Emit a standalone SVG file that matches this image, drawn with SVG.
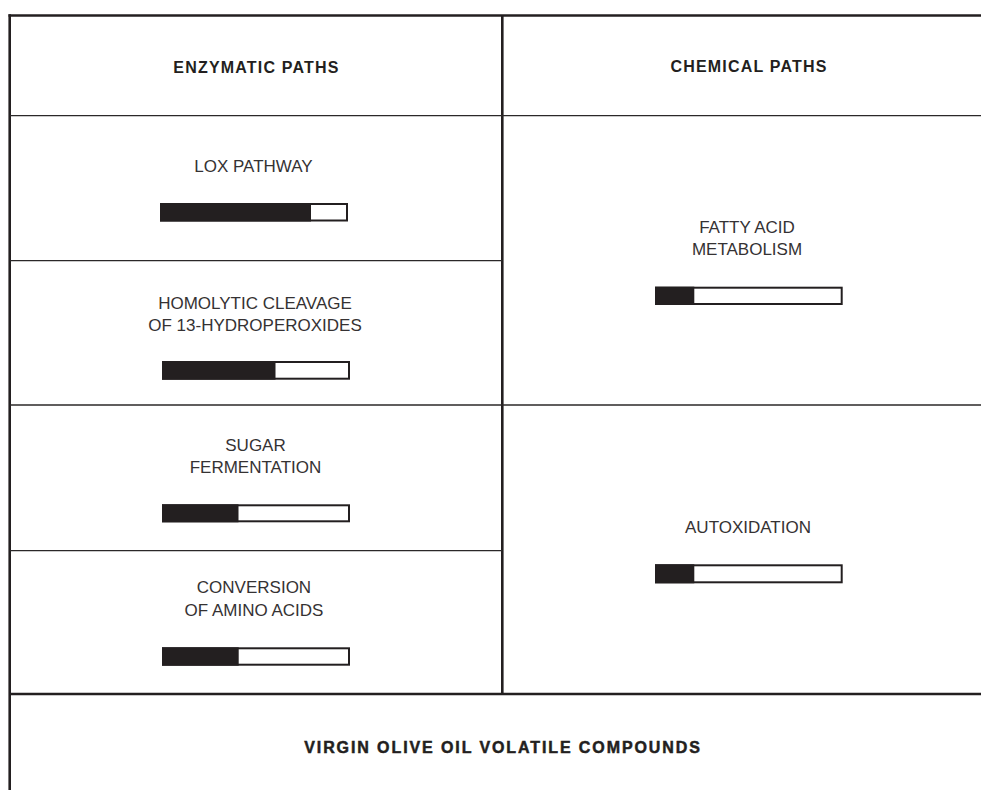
<svg xmlns="http://www.w3.org/2000/svg" width="981" height="790" viewBox="0 0 981 790">
  <style>
    .frame { stroke: #231f20; stroke-width: 2.6; fill: none; }
    .rule { stroke: #2b2829; stroke-width: 1.3; fill: none; }
    .head { font-family: "Liberation Sans", Arial, sans-serif; font-weight: bold; font-size: 16px; letter-spacing: 1.2px; fill: #231f20; text-anchor: middle; }
    .label { font-family: "Liberation Sans", Arial, sans-serif; font-size: 17px; fill: #353233; text-anchor: middle; }
    .title { font-family: "Liberation Sans", Arial, sans-serif; font-weight: bold; font-size: 16px; letter-spacing: 1.9px; fill: #231f20; stroke: #231f20; stroke-width: 0.5; text-anchor: middle; }
    .bar-bg { fill: #ffffff; stroke: #231f20; stroke-width: 2; }
    .bar-fill { fill: #231f20; }
  </style>

  <rect width="981" height="790" fill="#ffffff"/>

  <!-- table rules -->
  <g id="grid">
    <line class="frame" x1="8.5" y1="15.5" x2="981" y2="15.5"/>
    <line class="frame" x1="9.7" y1="14.2" x2="9.7" y2="790"/>
    <line class="frame" x1="502.3" y1="15.5" x2="502.3" y2="694"/>
    <line class="rule" x1="9.7" y1="115.7" x2="981" y2="115.7"/>
    <line class="rule" x1="9.7" y1="260.7" x2="502.3" y2="260.7"/>
    <line class="rule" x1="9.7" y1="405" x2="981" y2="405"/>
    <line class="rule" x1="9.7" y1="550.7" x2="502.3" y2="550.7"/>
    <line class="frame" x1="9.7" y1="694" x2="981" y2="694"/>
  </g>

  <g id="enzymatic-header">
    <text class="head" x="256.5" y="72.7">ENZYMATIC PATHS</text>
  </g>

  <g id="chemical-header">
    <text class="head" x="749" y="71.7">CHEMICAL PATHS</text>
  </g>

  <g id="lox-pathway">
    <text class="label" x="253.5" y="172.3">LOX PATHWAY</text>
    <rect class="bar-bg" x="161" y="204" width="186" height="16.5"/>
    <rect class="bar-fill" x="160" y="203" width="151" height="18.5"/>
  </g>

  <g id="homolytic-cleavage">
    <text class="label" x="255" y="309.3">HOMOLYTIC CLEAVAGE</text>
    <text class="label" x="255" y="330.5">OF 13-HYDROPEROXIDES</text>
    <rect class="bar-bg" x="163" y="362" width="186" height="16.7"/>
    <rect class="bar-fill" x="162" y="361" width="113.5" height="18.7"/>
  </g>

  <g id="sugar-fermentation">
    <text class="label" x="255.5" y="450.7">SUGAR</text>
    <text class="label" x="255.5" y="473.3">FERMENTATION</text>
    <rect class="bar-bg" x="163" y="505.3" width="186" height="16"/>
    <rect class="bar-fill" x="162" y="504.3" width="76.5" height="18"/>
  </g>

  <g id="amino-acid-conversion">
    <text class="label" x="254" y="593.3">CONVERSION</text>
    <text class="label" x="254" y="616">OF AMINO ACIDS</text>
    <rect class="bar-bg" x="163" y="648.3" width="186" height="16.4"/>
    <rect class="bar-fill" x="162" y="647.3" width="76.7" height="18.4"/>
  </g>

  <g id="fatty-acid-metabolism">
    <text class="label" x="747" y="233.3">FATTY ACID</text>
    <text class="label" x="747" y="255">METABOLISM</text>
    <rect class="bar-bg" x="656" y="287.7" width="185.7" height="16.3"/>
    <rect class="bar-fill" x="655" y="286.7" width="39.3" height="18.3"/>
  </g>

  <g id="autoxidation">
    <text class="label" x="748" y="533.3">AUTOXIDATION</text>
    <rect class="bar-bg" x="656" y="565.3" width="185.7" height="17"/>
    <rect class="bar-fill" x="655" y="564.3" width="39.3" height="19"/>
  </g>

  <g id="volatile-compounds">
    <text class="title" x="503" y="753">VIRGIN OLIVE OIL VOLATILE COMPOUNDS</text>
  </g>
</svg>
